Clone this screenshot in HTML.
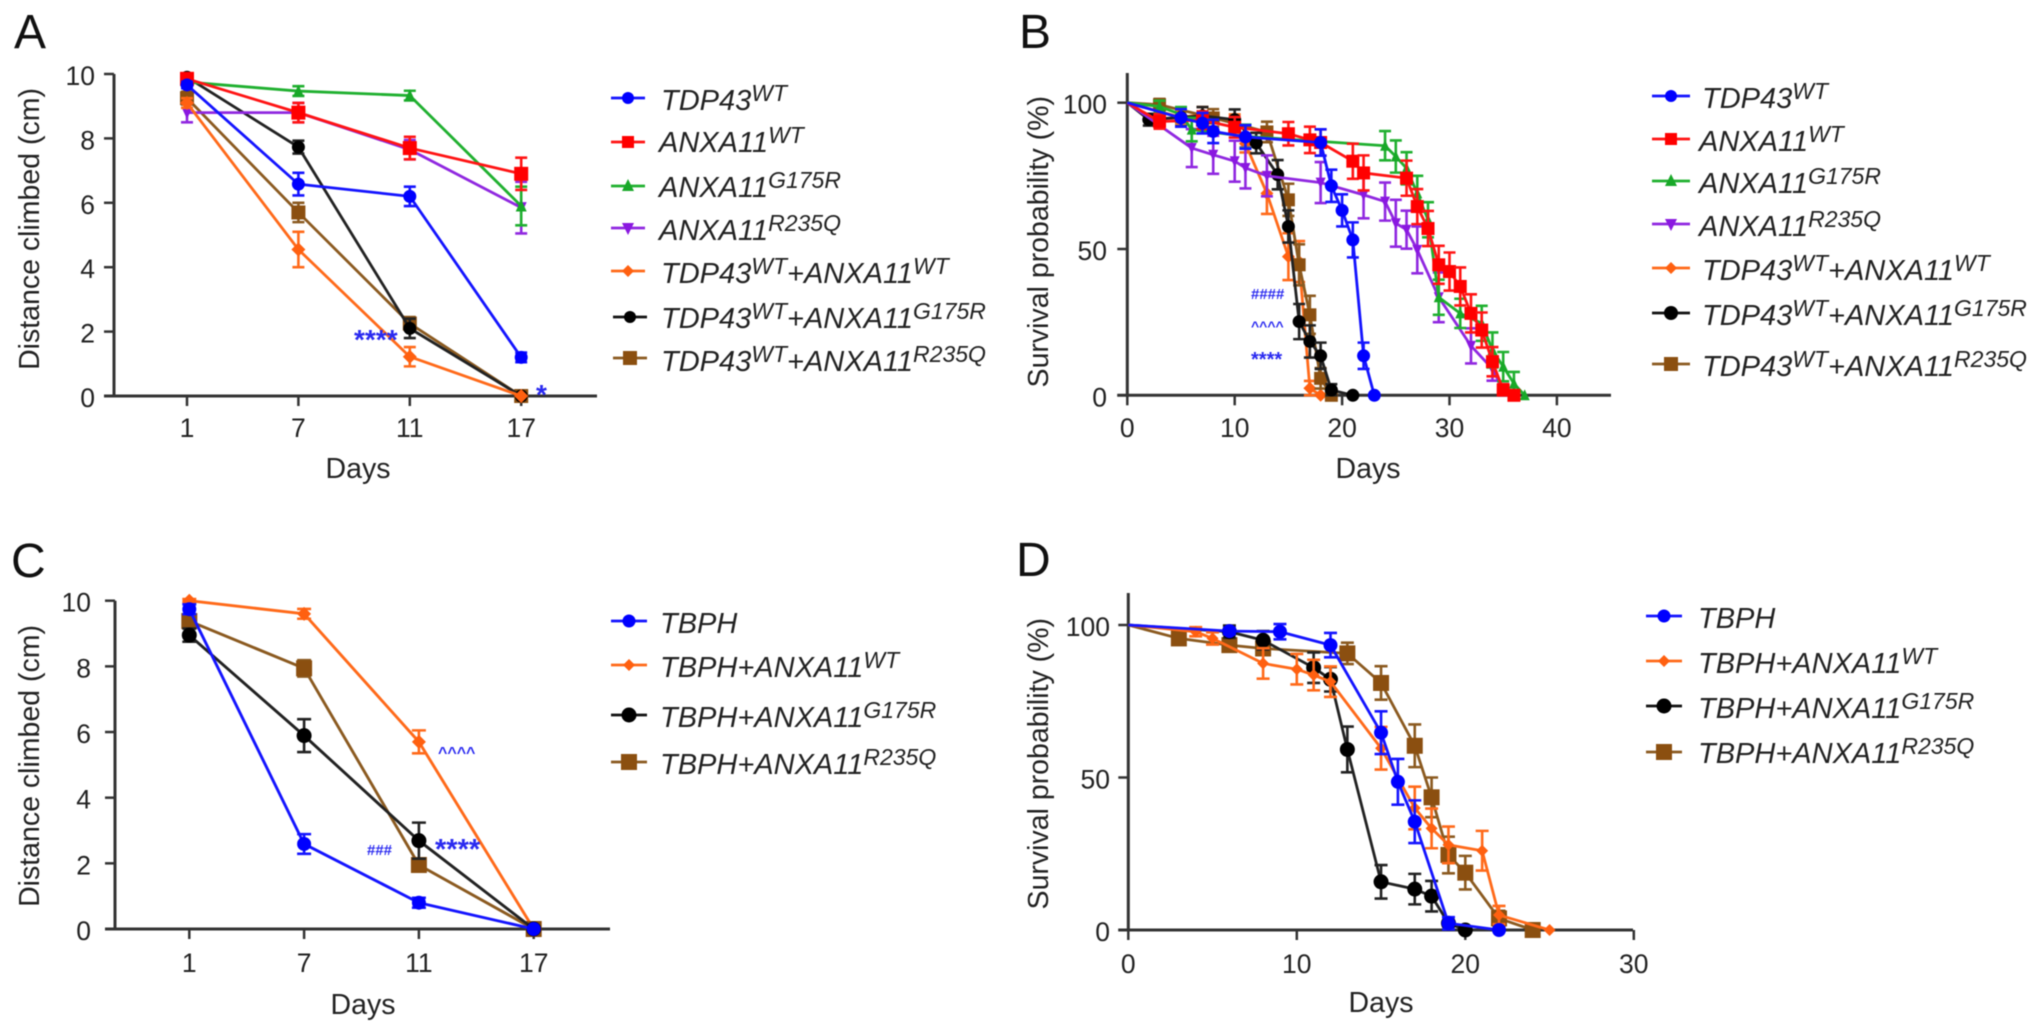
<!DOCTYPE html>
<html lang="en">
<head>
<meta charset="utf-8">
<title>Climbing distance and survival panels</title>
<style>
html,body{margin:0;padding:0;background:#fff;}
#figure{display:block;width:2032px;height:1033px;filter:blur(0.55px);}
text{font-family:"Liberation Sans",Arial,sans-serif;fill:#222;}
.tick{font-size:26.5px;}
.title{font-size:28.5px;}
.letter{font-size:48px;fill:#111;}
.leg{font-size:29px;font-style:italic;}
.leg tspan.s{font-size:23px;}
.note{fill:#2a2af0;font-weight:bold;}
</style>
</head>
<body>
<svg id="figure" xmlns="http://www.w3.org/2000/svg" width="2032" height="1033" viewBox="0 0 2032 1033">
<rect width="2032" height="1033" fill="#fff"/>
<text class="letter" x="14" y="48">A</text>
<text class="letter" x="1019" y="48">B</text>
<text class="letter" x="11" y="577">C</text>
<text class="letter" x="1016" y="576">D</text>

<g id="plot-a"></g>
<g id="plot-b"></g>
<g id="plot-c"></g>
<g id="plot-d"></g>

<g>
<g><line x1="611" x2="645" y1="98" y2="98" stroke="#1414ff" stroke-width="2.8"/><circle cx="628" cy="98" r="6" fill="#0000ff"/><text class="leg" x="661" y="110">TDP43<tspan class="s" dy="-9">WT</tspan></text></g>
<g><line x1="611" x2="645" y1="142" y2="142" stroke="#ff1414" stroke-width="2.8"/><rect x="622" y="136" width="12" height="12" fill="#ff0000"/><text class="leg" x="659" y="152">ANXA11<tspan class="s" dy="-9">WT</tspan></text></g>
<g><line x1="611" x2="645" y1="186" y2="186" stroke="#20b030" stroke-width="2.8"/><polygon points="628,179 634,191 622,191" fill="#18a828"/><text class="leg" x="659" y="197">ANXA11<tspan class="s" dy="-9">G175R</tspan></text></g>
<g><line x1="611" x2="645" y1="228" y2="228" stroke="#9028e0" stroke-width="2.8"/><polygon points="622,223 634,223 628,235" fill="#8a18e0"/><text class="leg" x="659" y="240">ANXA11<tspan class="s" dy="-9">R235Q</tspan></text></g>
<g><line x1="611" x2="645" y1="271" y2="271" stroke="#ff6a1a" stroke-width="2.8"/><polygon points="628,265 634,271 628,277 622,271" fill="#ff6010"/><text class="leg" x="661" y="283">TDP43<tspan class="s" dy="-9">WT</tspan><tspan dy="9">+ANXA11</tspan><tspan class="s" dy="-9">WT</tspan></text></g>
<g><line x1="613" x2="647" y1="317" y2="317" stroke="#111" stroke-width="2.8"/><circle cx="630" cy="317" r="6" fill="#000"/><text class="leg" x="661" y="328">TDP43<tspan class="s" dy="-9">WT</tspan><tspan dy="9">+ANXA11</tspan><tspan class="s" dy="-9">G175R</tspan></text></g>
<g><line x1="613" x2="647" y1="358" y2="358" stroke="#8b5a20" stroke-width="2.8"/><rect x="623" y="351" width="14" height="14" fill="#8b4f10"/><text class="leg" x="661" y="371">TDP43<tspan class="s" dy="-9">WT</tspan><tspan dy="9">+ANXA11</tspan><tspan class="s" dy="-9">R235Q</tspan></text></g>
</g>

<g>
<g><line x1="1652" x2="1690" y1="96" y2="96" stroke="#1414ff" stroke-width="2.8"/><circle cx="1671" cy="96" r="6" fill="#0000ff"/><text class="leg" x="1702" y="108">TDP43<tspan class="s" dy="-9">WT</tspan></text></g>
<g><line x1="1652" x2="1690" y1="139" y2="139" stroke="#ff1414" stroke-width="2.8"/><rect x="1665" y="133" width="12" height="12" fill="#ff0000"/><text class="leg" x="1699" y="151">ANXA11<tspan class="s" dy="-9">WT</tspan></text></g>
<g><line x1="1652" x2="1690" y1="181" y2="181" stroke="#20b030" stroke-width="2.8"/><polygon points="1671,174 1677,186 1665,186" fill="#18a828"/><text class="leg" x="1699" y="193">ANXA11<tspan class="s" dy="-9">G175R</tspan></text></g>
<g><line x1="1652" x2="1690" y1="224" y2="224" stroke="#9028e0" stroke-width="2.8"/><polygon points="1665,219 1677,219 1671,231" fill="#8a18e0"/><text class="leg" x="1699" y="236">ANXA11<tspan class="s" dy="-9">R235Q</tspan></text></g>
<g><line x1="1652" x2="1690" y1="268" y2="268" stroke="#ff6a1a" stroke-width="2.8"/><polygon points="1671,262 1677,268 1671,274 1665,268" fill="#ff6010"/><text class="leg" x="1702" y="280">TDP43<tspan class="s" dy="-9">WT</tspan><tspan dy="9">+ANXA11</tspan><tspan class="s" dy="-9">WT</tspan></text></g>
<g><line x1="1652" x2="1690" y1="313" y2="313" stroke="#111" stroke-width="2.8"/><circle cx="1671" cy="313" r="7" fill="#000"/><text class="leg" x="1702" y="325">TDP43<tspan class="s" dy="-9">WT</tspan><tspan dy="9">+ANXA11</tspan><tspan class="s" dy="-9">G175R</tspan></text></g>
<g><line x1="1652" x2="1690" y1="364" y2="364" stroke="#8b5a20" stroke-width="2.8"/><rect x="1664" y="357" width="14" height="14" fill="#8b4f10"/><text class="leg" x="1702" y="376">TDP43<tspan class="s" dy="-9">WT</tspan><tspan dy="9">+ANXA11</tspan><tspan class="s" dy="-9">R235Q</tspan></text></g>
</g>

<g>
<g><line x1="611" x2="647" y1="621" y2="621" stroke="#1414ff" stroke-width="2.8"/><circle cx="629" cy="621" r="6.5" fill="#0000ff"/><text class="leg" x="660" y="633">TBPH</text></g>
<g><line x1="611" x2="647" y1="665" y2="665" stroke="#ff6a1a" stroke-width="2.8"/><polygon points="629,659 635,665 629,671 623,665" fill="#ff6010"/><text class="leg" x="660" y="677">TBPH+ANXA11<tspan class="s" dy="-9">WT</tspan></text></g>
<g><line x1="611" x2="647" y1="715" y2="715" stroke="#111" stroke-width="2.8"/><circle cx="629" cy="715" r="7.5" fill="#000"/><text class="leg" x="660" y="727">TBPH+ANXA11<tspan class="s" dy="-9">G175R</tspan></text></g>
<g><line x1="611" x2="647" y1="762" y2="762" stroke="#8b5a20" stroke-width="2.8"/><rect x="621" y="754" width="16" height="16" fill="#8b4f10"/><text class="leg" x="660" y="774">TBPH+ANXA11<tspan class="s" dy="-9">R235Q</tspan></text></g>
</g>

<g>
<g><line x1="1646" x2="1682" y1="616" y2="616" stroke="#1414ff" stroke-width="2.8"/><circle cx="1664" cy="616" r="6.5" fill="#0000ff"/><text class="leg" x="1698" y="628">TBPH</text></g>
<g><line x1="1646" x2="1682" y1="661" y2="661" stroke="#ff6a1a" stroke-width="2.8"/><polygon points="1664,655 1670,661 1664,667 1658,661" fill="#ff6010"/><text class="leg" x="1698" y="673">TBPH+ANXA11<tspan class="s" dy="-9">WT</tspan></text></g>
<g><line x1="1646" x2="1682" y1="706" y2="706" stroke="#111" stroke-width="2.8"/><circle cx="1664" cy="706" r="7.5" fill="#000"/><text class="leg" x="1698" y="718">TBPH+ANXA11<tspan class="s" dy="-9">G175R</tspan></text></g>
<g><line x1="1646" x2="1682" y1="752" y2="752" stroke="#8b5a20" stroke-width="2.8"/><rect x="1656" y="744" width="16" height="16" fill="#8b4f10"/><text class="leg" x="1698" y="763">TBPH+ANXA11<tspan class="s" dy="-9">R235Q</tspan></text></g>
</g>

<g>
<text class="note" x="354" y="349" font-size="28">****</text>
<text class="note" x="536" y="404" font-size="28">*</text>
</g>
<g>
<text class="note" x="1251" y="299" font-size="15">####</text>
<text class="note" x="1251" y="331" font-size="14">^^^^</text>
<text class="note" x="1251" y="366" font-size="20">****</text>
</g>
<g>
<text class="note" x="438" y="758" font-size="16">^^^^</text>
<text class="note" x="435" y="859" font-size="29">****</text>
<text class="note" x="367" y="855" font-size="15">###</text>
</g>
</svg>

<script>
/* ---------- Panel A data ---------- */
const aCategories = ["1", "7", "11", "17"];
const aYTicks = [0, 2, 4, 6, 8, 10];
const aTdp43Wt = [9.66, 6.58, 6.2, 1.2];
const aTdp43WtErr = [0.1, 0.35, 0.3, 0.15];
const aAnxaWt = [9.85, 8.8, 7.7, 6.9];
const aAnxaWtErr = [0.1, 0.3, 0.35, 0.5];
const aAnxaG175r = [9.75, 9.47, 9.33, 5.9];
const aAnxaG175rErr = [0.05, 0.15, 0.15, 0.6];
const aAnxaR235q = [8.8, 8.8, 7.65, 5.85];
const aAnxaR235qErr = [0.3, 0.3, 0.3, 0.8];
const aComboWt = [9.1, 4.55, 1.22, 0];
const aComboWtErr = [0.15, 0.55, 0.3, 0];
const aComboG175r = [9.9, 7.73, 2.1, 0];
const aComboG175rErr = [0.05, 0.2, 0.3, 0];
const aComboR235q = [9.25, 5.7, 2.25, 0];
const aComboR235qErr = [0.2, 0.3, 0.2, 0];

/* ---------- Panel B data ---------- */
const bXTicks = [0, 10, 20, 30, 40];
const bYTicks = [0, 50, 100];
const bTdp43WtDays = [0, 5, 7, 8, 11, 18, 19, 20, 21, 22, 23];
const bTdp43WtSurv = [100, 94.8, 93, 90.2, 88.3, 86.4, 71.6, 63.2, 53.1, 13.5, 0];
const bTdp43WtErr = [0, 3, 3.5, 4, 4, 4.5, 5.5, 5.5, 6, 4.5, 0];
const bAnxaWtDays = [0, 3, 7, 10, 15, 17, 18, 21, 22, 26, 27, 28, 29, 30, 31, 32, 33, 34, 35, 36];
const bAnxaWtSurv = [100, 93.6, 94, 91.6, 89.4, 87.3, 86.4, 80, 76, 74.2, 64.5, 57, 44.6, 42.3, 37.2, 28, 22.3, 11.5, 1.8, 0];
const bAnxaWtErr = [0, 2.5, 3, 3.5, 4, 4.5, 4.5, 6, 6, 6, 6, 6, 6.5, 6.5, 6.5, 6.5, 6, 5, 2, 0];
const bAnxaG175rDays = [0, 3, 5, 6, 11, 24, 25, 26, 27, 28, 29, 31, 33, 34, 35, 36, 37];
const bAnxaG175rSurv = [100, 98.7, 96, 90.8, 88.5, 85.3, 81.6, 77.6, 69, 60, 33.5, 28, 24.6, 15.5, 9.8, 4, 0];
const bAnxaG175rErr = [0, 2, 2.5, 4, 4, 5, 5.5, 5.5, 6, 6, 6, 5, 6, 6, 5, 4, 0];
const bAnxaR235qDays = [0, 6, 8, 10, 11, 13, 18, 22, 24, 25, 26, 27, 29, 32, 34, 35, 36];
const bAnxaR235qSurv = [100, 84.5, 82.2, 80, 77.7, 75, 72.7, 68.5, 66.2, 58.8, 56.6, 49.7, 33.5, 16.9, 9, 1.8, 0];
const bAnxaR235qErr = [0, 6.5, 6.5, 7, 7, 7, 7, 8, 6.5, 8, 6.5, 8, 8.5, 6, 4, 2, 0];
const bComboWtDays = [0, 5, 7, 10, 11, 13, 15, 16, 17, 18];
const bComboWtSurv = [100, 95, 96, 93, 86, 69, 47.4, 45.7, 2.4, 0];
const bComboWtErr = [0, 2, 2.5, 3, 3, 7, 8, 7, 2.5, 0];
const bComboG175rDays = [0, 2, 5, 7, 10, 12, 14, 15, 16, 17, 18, 19, 21];
const bComboG175rSurv = [100, 94.2, 95, 95.5, 94.2, 86.2, 75.4, 57.7, 25.2, 18.4, 13.5, 1.8, 0];
const bComboG175rErr = [0, 2, 3, 3, 3.5, 3.5, 5, 5.5, 6, 5.5, 4.5, 2, 0];
const bComboR235qDays = [0, 3, 8, 13, 15, 16, 17, 18, 19];
const bComboR235qSurv = [100, 99.3, 94.8, 90, 66.8, 44.6, 27.5, 5.8, 0];
const bComboR235qErr = [0, 2, 3, 3.5, 5.5, 7, 6.5, 3.5, 0];

/* ---------- Panel C data ---------- */
const cCategories = ["1", "7", "11", "17"];
const cYTicks = [0, 2, 4, 6, 8, 10];
const cTbph = [9.74, 2.59, 0.8, 0];
const cTbphErr = [0.15, 0.3, 0.15, 0];
const cTbphWt = [10, 9.6, 5.7, 0];
const cTbphWtErr = [0.05, 0.15, 0.35, 0];
const cTbphG175r = [8.95, 5.89, 2.69, 0];
const cTbphG175rErr = [0.2, 0.5, 0.55, 0];
const cTbphR235q = [9.38, 7.94, 1.95, 0];
const cTbphR235qErr = [0.2, 0.25, 0.2, 0];

/* ---------- Panel D data ---------- */
const dXTicks = [0, 10, 20, 30];
const dYTicks = [0, 50, 100];
const dTbphDays = [0, 6, 9, 12, 15, 16, 17, 19, 22];
const dTbphSurv = [100, 98, 97.8, 93.4, 64.7, 48.6, 35.5, 2.2, 0];
const dTbphErr = [0, 1, 2.5, 4, 7, 7.5, 7, 2, 0];
const dTbphWtDays = [0, 4, 5, 8, 10, 11, 12, 15, 17, 18, 19, 21, 22, 25];
const dTbphWtSurv = [100, 97.8, 95.6, 87.4, 85.5, 83.6, 81.4, 59.6, 40, 33.3, 27.9, 26, 4.9, 0];
const dTbphWtErr = [0, 1.5, 2, 5, 5, 5, 5, 7, 7, 6.5, 6, 6.5, 3, 0];
const dTbphG175rDays = [0, 6, 8, 11, 12, 13, 15, 17, 18, 19, 20];
const dTbphG175rSurv = [100, 97.8, 95, 86, 82.2, 59.2, 15.8, 13.4, 11.1, 2.2, 0];
const dTbphG175rErr = [0, 2, 3, 5, 4, 7.5, 5.5, 5, 5, 1, 0];
const dTbphR235qDays = [0, 3, 6, 8, 13, 15, 17, 18, 19, 20, 22, 24];
const dTbphR235qSurv = [100, 95.6, 93.4, 92.3, 90.7, 81, 60.4, 43.5, 24.6, 18.8, 3.8, 0];
const dTbphR235qErr = [0, 1.5, 1.5, 2, 3.5, 5.5, 7, 6.5, 6, 5.5, 2.5, 0];

const SVGNS = "http://www.w3.org/2000/svg";
const AXIS = "#333";

function make(parent, tag, attrs) {
  const e = document.createElementNS(SVGNS, tag);
  for (const k in attrs) e.setAttribute(k, attrs[k]);
  parent.appendChild(e);
  return e;
}

function drawMarker(g, shape, cx, cy, size, color, name) {
  let m;
  if (shape === "circle") {
    m = make(g, "circle", { cx: cx, cy: cy, r: size, fill: color });
  } else if (shape === "square") {
    m = make(g, "rect", { x: cx - size, y: cy - size, width: 2 * size, height: 2 * size, fill: color });
  } else if (shape === "up") {
    m = make(g, "polygon", { points: [cx, cy - size - 1, cx + size, cy + size, cx - size, cy + size].join(","), fill: color });
  } else if (shape === "down") {
    m = make(g, "polygon", { points: [cx - size, cy - size, cx + size, cy - size, cx, cy + size + 1].join(","), fill: color });
  } else {
    m = make(g, "polygon", { points: [cx, cy - size, cx + size, cy, cx, cy + size, cx - size, cy].join(","), fill: color });
  }
  
  
}

function drawSeries(root, s, xf, yf, capW, lineW) {
  const g = make(root, "g", {});
  
  
  const pts = s.vals.map(function (v, i) { return xf(s.xs[i]) + "," + yf(v); }).join(" ");
  const line = make(g, "polyline", { points: pts, fill: "none", stroke: s.line, "stroke-width": lineW, "stroke-linejoin": "round" });
  
  
  s.vals.forEach(function (v, i) {
    const x = xf(s.xs[i]);
    const y = yf(v);
    const e = s.errs[i];
    if (e > 0) {
      const eb = make(g, "path", {
        d: "M" + x + " " + yf(v + e) + "V" + yf(Math.max(v - e, 0)) +
           "M" + (x - capW / 2) + " " + yf(v + e) + "h" + capW +
           "M" + (x - capW / 2) + " " + yf(Math.max(v - e, 0)) + "h" + capW,
        fill: "none", stroke: s.line, "stroke-width": 2.6
      });
      
      
    }
    if (s.xs[i] !== 0 || s.categorical) {
      drawMarker(g, s.shape, x, y, s.size, s.color, 'point-' + s.name);
    }
  });
}

function drawAxes(root, cfg) {
  const g = make(root, "g", {});
  
  
  const yAxis = make(g, "line", { x1: cfg.left, x2: cfg.left, y1: cfg.top, y2: cfg.yf(0) + 1.5, stroke: AXIS, "stroke-width": 3 });
  
  
  const xAxis = make(g, "line", { x1: cfg.left - 10, x2: cfg.right, y1: cfg.yf(0), y2: cfg.yf(0), stroke: AXIS, "stroke-width": 3 });
  
  
  cfg.yTicks.forEach(function (t) {
    const y = cfg.yf(t);
    const tk = make(g, "line", { x1: cfg.left - 10, x2: cfg.left, y1: y, y2: y, stroke: AXIS, "stroke-width": 2.5 });
    
    
    const lb = make(g, "text", { class: "tick", x: cfg.yLabelX, y: y + 11, "text-anchor": "end" });
    lb.textContent = String(t);
    
    
  });
  cfg.xTicks.forEach(function (t, i) {
    const x = cfg.xf(cfg.categorical ? i : t);
    const tk = make(g, "line", { x1: x, x2: x, y1: cfg.yf(0), y2: cfg.yf(0) + 10, stroke: AXIS, "stroke-width": 2.5 });
    
    
    const lb = make(g, "text", { class: "tick", x: x, y: cfg.xLabelY, "text-anchor": "middle" });
    lb.textContent = String(t);
    
    
  });
  const xt = make(g, "text", { class: "title", x: cfg.xTitleX, y: cfg.xTitleY, "text-anchor": "middle" });
  xt.textContent = "Days";
  
  
  const yt = make(g, "text", { class: "title", transform: "translate(" + cfg.yTitleX + " " + cfg.yTitleTop + ") rotate(-90)", x: 0, y: 0, "text-anchor": "end" });
  yt.textContent = cfg.yTitle;
  
  
}

function linear(d0, r0, pxPerUnit) {
  return function (v) { return r0 + (v - d0) * pxPerUnit; };
}

const C = { blue: "#0000ff", red: "#ff0000", green: "#18a828", purple: "#8a18e0", orange: "#ff6010", black: "#000", brown: "#8b4f10" };
const L = { blue: "#1414ff", red: "#ff1414", green: "#20b030", purple: "#9028e0", orange: "#ff6a1a", black: "#222", brown: "#8b5a20" };

function catSeries(name, vals, errs, key, shape, size) {
  return { name: name, vals: vals, errs: errs, xs: vals.map(function (_, i) { return i; }), color: C[key], line: L[key], shape: shape, size: size, categorical: true };
}
function kmSeries(name, xs, vals, errs, key, shape, size) {
  return { name: name, vals: vals, errs: errs, xs: xs, color: C[key], line: L[key], shape: shape, size: size, categorical: false };
}

function renderPanel(id, cfg, series, capW, lineW) {
  const root = document.getElementById(id);
  drawAxes(root, cfg);
  series.forEach(function (s) { drawSeries(root, s, cfg.xf, cfg.yf, capW, lineW); });
}

renderPanel("plot-a", {
  left: 114, top: 74, right: 597, categorical: true,
  xf: linear(0, 187, 111.4), yf: linear(0, 396, -32.2),
  xTicks: aCategories, yTicks: aYTicks, yLabelX: 95, xLabelY: 437,
  xTitleX: 358, xTitleY: 478, yTitleX: 39, yTitleTop: 88, yTitle: "Distance climbed (cm)"
}, [
  catSeries("tdp43-anxa11-r235q", aComboR235q, aComboR235qErr, "brown", "square", 7),
  catSeries("tdp43-anxa11-g175r", aComboG175r, aComboG175rErr, "black", "circle", 6.5),
  catSeries("anxa11-r235q", aAnxaR235q, aAnxaR235qErr, "purple", "down", 5.5),
  catSeries("anxa11-g175r", aAnxaG175r, aAnxaG175rErr, "green", "up", 5.5),
  catSeries("anxa11-wt", aAnxaWt, aAnxaWtErr, "red", "square", 7),
  catSeries("tdp43-anxa11-wt", aComboWt, aComboWtErr, "orange", "diamond", 7),
  catSeries("tdp43-wt", aTdp43Wt, aTdp43WtErr, "blue", "circle", 6.5)
], 12, 2.8);

renderPanel("plot-b", {
  left: 1127.3, top: 73, right: 1611, categorical: false,
  xf: linear(0, 1127.3, 10.74), yf: linear(0, 395.3, -2.926),
  xTicks: bXTicks, yTicks: bYTicks, yLabelX: 1107, xLabelY: 437,
  xTitleX: 1368, xTitleY: 478, yTitleX: 1048, yTitleTop: 96, yTitle: "Survival probability (%)"
}, [
  kmSeries("tdp43-anxa11-wt", bComboWtDays, bComboWtSurv, bComboWtErr, "orange", "diamond", 6.5),
  kmSeries("tdp43-anxa11-r235q", bComboR235qDays, bComboR235qSurv, bComboR235qErr, "brown", "square", 6.5),
  kmSeries("tdp43-anxa11-g175r", bComboG175rDays, bComboG175rSurv, bComboG175rErr, "black", "circle", 6.5),
  kmSeries("anxa11-r235q", bAnxaR235qDays, bAnxaR235qSurv, bAnxaR235qErr, "purple", "down", 5),
  kmSeries("anxa11-g175r", bAnxaG175rDays, bAnxaG175rSurv, bAnxaG175rErr, "green", "up", 5),
  kmSeries("anxa11-wt", bAnxaWtDays, bAnxaWtSurv, bAnxaWtErr, "red", "square", 6.5),
  kmSeries("tdp43-wt", bTdp43WtDays, bTdp43WtSurv, bTdp43WtErr, "blue", "circle", 6.5)
], 12, 2.8);

renderPanel("plot-c", {
  left: 115, top: 600.7, right: 610, categorical: true,
  xf: linear(0, 189.3, 114.8), yf: linear(0, 929, -32.83),
  xTicks: cCategories, yTicks: cYTicks, yLabelX: 91, xLabelY: 972,
  xTitleX: 363, xTitleY: 1014, yTitleX: 39, yTitleTop: 625, yTitle: "Distance climbed (cm)"
}, [
  catSeries("tbph-anxa11-wt", cTbphWt, cTbphWtErr, "orange", "diamond", 7),
  catSeries("tbph-anxa11-r235q", cTbphR235q, cTbphR235qErr, "brown", "square", 8),
  catSeries("tbph-anxa11-g175r", cTbphG175r, cTbphG175rErr, "black", "circle", 7.5),
  catSeries("tbph", cTbph, cTbphErr, "blue", "circle", 7)
], 14, 2.9);

renderPanel("plot-d", {
  left: 1128.3, top: 593, right: 1633, categorical: false,
  xf: linear(0, 1128.3, 16.85), yf: linear(0, 930, -3.05),
  xTicks: dXTicks, yTicks: dYTicks, yLabelX: 1110, xLabelY: 973,
  xTitleX: 1381, xTitleY: 1012, yTitleX: 1048, yTitleTop: 618, yTitle: "Survival probability (%)"
}, [
  kmSeries("tbph-anxa11-r235q", dTbphR235qDays, dTbphR235qSurv, dTbphR235qErr, "brown", "square", 8),
  kmSeries("tbph-anxa11-g175r", dTbphG175rDays, dTbphG175rSurv, dTbphG175rErr, "black", "circle", 7.5),
  kmSeries("tbph-anxa11-wt", dTbphWtDays, dTbphWtSurv, dTbphWtErr, "orange", "diamond", 6),
  kmSeries("tbph", dTbphDays, dTbphSurv, dTbphErr, "blue", "circle", 7)
], 13, 2.8);
</script>
</body>
</html>
